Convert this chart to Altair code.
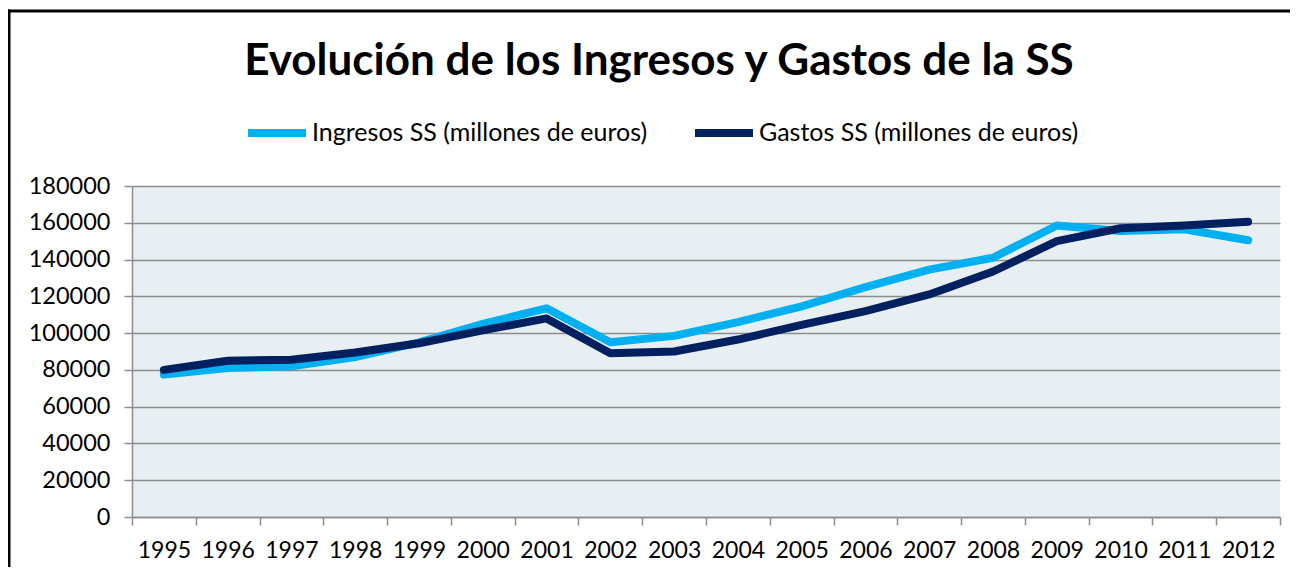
import altair as alt
import pandas as pd

years = [str(y) for y in range(1995, 2013)]
ingresos = [77500, 81000, 82000, 87000, 95000, 105000, 113500, 95000, 98500,
            106000, 114500, 125000, 134500, 141000, 158500, 155500, 156500, 150500]
gastos = [80000, 85000, 85500, 89500, 94500, 101500, 108000, 89000, 90000,
          96500, 104500, 112000, 121000, 133500, 150000, 157000, 158500, 160500]
series_names = ["Ingresos SS (millones de euros)", "Gastos SS (millones de euros)"]
series_colors = ["#00B0F0", "#002060"]
y_ticks = list(range(0, 180001, 20000))

rows = []
for i, yr in enumerate(years):
    rows.append({"year": yr, "serie": series_names[0], "value": ingresos[i]})
    rows.append({"year": yr, "serie": series_names[1], "value": gastos[i]})
df = pd.DataFrame(rows)

FONT = "Lato"

base = alt.Chart(df).encode(
    x=alt.X("year:O", sort=years,
            scale=alt.Scale(type="band", paddingInner=0, paddingOuter=0),
            axis=alt.Axis(title=None, labelAngle=0, tickBand="extent", grid=False,
                          domainColor="#8C8C8C", tickColor="#8C8C8C", domainWidth=1.5,
                          tickWidth=1.5, tickSize=8, labelPadding=14,
                          labelFont=FONT, labelFontSize=23, labelColor="#000000")),
    y=alt.Y("value:Q", scale=alt.Scale(domain=[0, 180000], nice=False),
            axis=alt.Axis(title=None, values=y_ticks, format="d", grid=True,
                          gridColor="#8C8C8C", gridWidth=1.5,
                          domainColor="#8C8C8C", tickColor="#8C8C8C", domainWidth=1.5,
                          tickWidth=1.5, tickSize=8, labelPadding=14,
                          labelFont=FONT, labelFontSize=23.5, labelColor="#000000")),
    color=alt.Color("serie:N",
                    scale=alt.Scale(domain=series_names, range=series_colors),
                    legend=alt.Legend(title=None, orient="none", legendX=112, legendY=-86,
                                      direction="horizontal", symbolType="stroke",
                                      symbolSize=3364, symbolStrokeWidth=8,
                                      labelFont=FONT, labelFontSize=25, labelOffset=2,
                                      columnPadding=31, labelColor="#000000",
                                      labelLimit=600)),
)

l1 = base.transform_filter(alt.datum.serie == series_names[0]).mark_line(
    strokeWidth=8, strokeCap="round", strokeJoin="round")
l2 = base.transform_filter(alt.datum.serie == series_names[1]).mark_line(
    strokeWidth=8, strokeCap="round", strokeJoin="round")

frame_left = alt.Chart(pd.DataFrame({"k": [0]})).mark_rule(color="#000000", strokeWidth=4).encode(
    x=alt.value(-123.5), y=alt.value(-176.5), y2=alt.value(420))
frame_top = alt.Chart(pd.DataFrame({"k": [0]})).mark_rule(color="#000000", strokeWidth=3).encode(
    x=alt.value(-125.5), x2=alt.value(1160), y=alt.value(-175))

chart = alt.layer(l1, l2, frame_left, frame_top).properties(
    width=1148, height=331,
    title=alt.TitleParams("Evolución de los Ingresos y Gastos de la SS", font=FONT,
                          fontSize=44, fontWeight="bold", anchor="middle", frame="group",
                          dx=-47, dy=111, offset=0, baseline="alphabetic", color="#000000"),
    padding={"left": 124, "top": 178, "right": 10, "bottom": 50},
    autosize=alt.AutoSizeParams(type="none"),
).configure_view(fill="#E8EFF3", stroke=None)

chart.save("out.html", embed_options={"renderer": "svg", "actions": False})
